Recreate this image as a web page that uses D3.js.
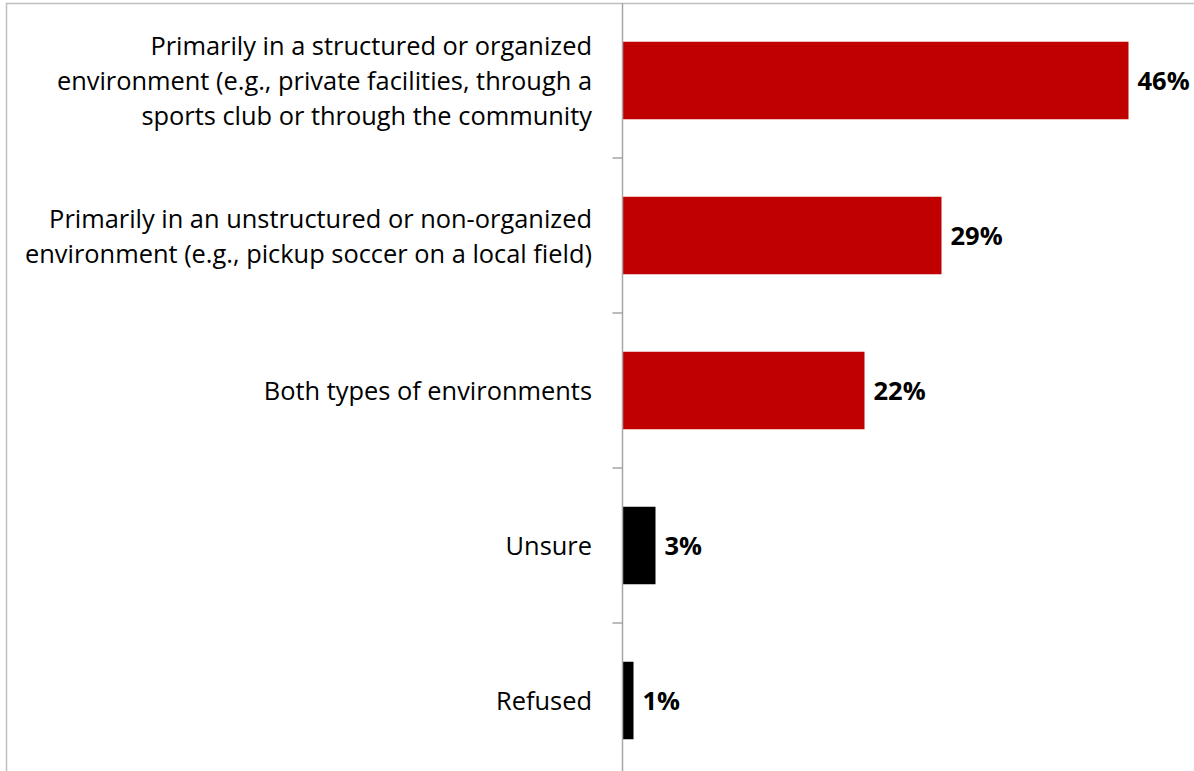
<!DOCTYPE html>
<html>
<head>
<meta charset="utf-8">
<script src="https://cdn.jsdelivr.net/npm/d3@7"></script>
<style>
  html, body { margin: 0; padding: 0; background: #fff; }
  svg { display: block; }
</style>
</head>
<body>
<svg id="chart" width="1194" height="771"></svg>
<script>
// Survey responses: where the activity primarily takes place
const categories = [
  ["Primarily in a structured or organized", "environment (e.g., private facilities, through a", "sports club or through the community"],
  ["Primarily in an unstructured or non-organized", "environment (e.g., pickup soccer on a local field)"],
  ["Both types of environments"],
  ["Unsure"],
  ["Refused"]
];
const values = [46, 29, 22, 3, 1];
const valueLabels = ["46%", "29%", "22%", "3%", "1%"];
const barColors = ["#C00000", "#C00000", "#C00000", "#000000", "#000000"];

const svg = d3.select("#chart");
const W = 1194, H = 771;
const font = "'Open Sans', sans-serif";

// outer frame
svg.append("rect")
  .attr("x", 6.5).attr("y", 3.5)
  .attr("width", W + 10).attr("height", H + 10)
  .attr("fill", "none").attr("stroke", "#bfbfbf").attr("stroke-width", 1.5);

const axisX = 622.5;
const x = d3.scaleLinear().domain([0, 52]).range([axisX, axisX + 572]);
const y = d3.scaleBand().domain(d3.range(categories.length)).range([3, 778]).paddingInner(0.5).paddingOuter(0.25);
const yBand = d3.scaleBand().domain(d3.range(categories.length)).range([3, 778]);

// bars
svg.append("g").selectAll("rect")
  .data(values)
  .join("rect")
  .attr("x", axisX)
  .attr("y", (d, i) => y(i))
  .attr("width", d => x(d) - axisX)
  .attr("height", y.bandwidth())
  .attr("fill", (d, i) => barColors[i]);

// category axis with ticks between bands
const axisG = svg.append("g");
axisG.append("line")
  .attr("x1", axisX).attr("x2", axisX)
  .attr("y1", 3).attr("y2", H)
  .attr("stroke", "#a6a6a6").attr("stroke-width", 1.5);
axisG.selectAll("line.tick")
  .data(d3.range(1, categories.length))
  .join("line")
  .attr("class", "tick")
  .attr("x1", axisX - 10).attr("x2", axisX)
  .attr("y1", i => yBand(i)).attr("y2", i => yBand(i))
  .attr("stroke", "#a6a6a6").attr("stroke-width", 1.5);

// category labels
const lineH = 35;
svg.append("g").selectAll("text")
  .data(categories)
  .join("text")
  .attr("text-anchor", "end")
  .attr("font-family", font)
  .attr("font-size", 25.4)
  .attr("fill", "#000")
  .each(function(lines, i) {
    const cy = yBand(i) + yBand.bandwidth() / 2 + 1;
    const top = cy - (lines.length - 1) * lineH / 2;
    d3.select(this).selectAll("tspan")
      .data(lines)
      .join("tspan")
      .attr("x", 592)
      .attr("y", (d, k) => top + k * lineH)
      .attr("dy", "0.35em")
      .text(d => d);
  });

// value labels
svg.append("g").selectAll("text")
  .data(values)
  .join("text")
  .attr("x", d => x(d) + 9)
  .attr("y", (d, i) => y(i) + y.bandwidth() / 2 + 1)
  .attr("dy", "0.35em")
  .attr("font-family", font)
  .attr("font-weight", "bold")
  .attr("font-size", 25.5)
  .attr("fill", "#000")
  .text((d, i) => valueLabels[i]);
</script>
</body>
</html>
